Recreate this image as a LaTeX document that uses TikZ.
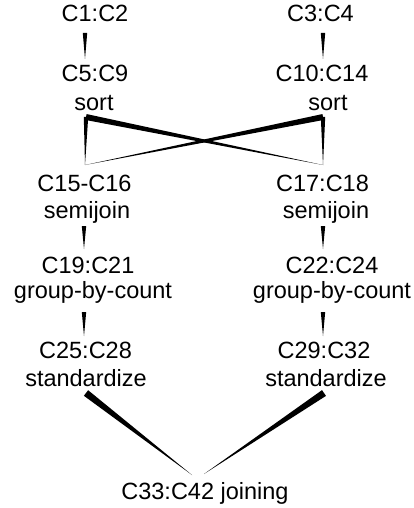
\documentclass[tikz,border=0pt]{standalone}
\usepackage{fontspec}
\setmainfont{Liberation Sans}
\usetikzlibrary{calc}
\newcommand{\taper}[3]{\fill[black] ($(#1)!#3!90:(#2)$) -- ($(#1)!#3!-90:(#2)$) -- (#2) -- cycle;}
\begin{document}
\begin{tikzpicture}[x=1pt,y=-1pt,
  lbl/.style={anchor=base,inner sep=0pt,font=\fontsize{23.5}{28}\selectfont}]
\useasboundingbox (0,0) rectangle (414,508);
% text nodes
\node[lbl] (c1) at (95,21.7) {C1:C2};
\node[lbl] (c3) at (320.5,21.7) {C3:C4};
\node[lbl] (c5) at (95,81.7) {C5:C9};
\node[lbl] (c5s) at (94,110.5) {sort};
\node[lbl] (c10) at (322,81.7) {C10:C14};
\node[lbl] (c10s) at (328,110.5) {sort};
\node[lbl] (c15) at (84.5,191.7) {C15-C16};
\node[lbl] (c15s) at (87,218.5) {semijoin};
\node[lbl] (c17) at (322.5,191.7) {C17:C18};
\node[lbl] (c17s) at (326,218.5) {semijoin};
\node[lbl] (c19) at (88,273.3) {C19:C21};
\node[lbl] (c19s) at (93,298.5) {group-by-count};
\node[lbl] (c22) at (332,273.3) {C22:C24};
\node[lbl] (c22s) at (332,298.5) {group-by-count};
\node[lbl] (c25) at (85.5,358.3) {C25:C28};
\node[lbl] (c25s) at (86,386.5) {standardize};
\node[lbl] (c29) at (324,358.3) {C29:C32};
\node[lbl] (c29s) at (326,386.5) {standardize};
\node[lbl] (c33) at (205,499.7) {C33:C42 joining};
% connector end points
\coordinate (a1) at (85,33);   \coordinate (b1) at (85,59);
\coordinate (a2) at (323,33);  \coordinate (b2) at (323,59);
\coordinate (sL) at (86,117);  \coordinate (sR) at (323,117);
\coordinate (tL) at (85,165);  \coordinate (tR) at (323,165);
\coordinate (a3) at (84,226);  \coordinate (b3) at (84,249);
\coordinate (a4) at (323,226); \coordinate (b4) at (323,249);
\coordinate (a5) at (84,312);  \coordinate (b5) at (84,336);
\coordinate (a6) at (323,312); \coordinate (b6) at (323,336);
\coordinate (a7) at (86,393);  \coordinate (b7) at (192,475);
\coordinate (a8) at (324,393); \coordinate (b8) at (204,474);
% tapered connectors
\taper{a1}{b1}{2.2pt}
\taper{a2}{b2}{2.2pt}
\taper{sL}{tL}{2.2pt}
\taper{sL}{tR}{3pt}
\taper{sR}{tR}{2.2pt}
\taper{sR}{tL}{3pt}
\taper{a3}{b3}{2.2pt}
\taper{a4}{b4}{2.2pt}
\taper{a5}{b5}{2.2pt}
\taper{a6}{b6}{2.2pt}
\taper{a7}{b7}{3.5pt}
\taper{a8}{b8}{3.5pt}
\end{tikzpicture}
\end{document}
